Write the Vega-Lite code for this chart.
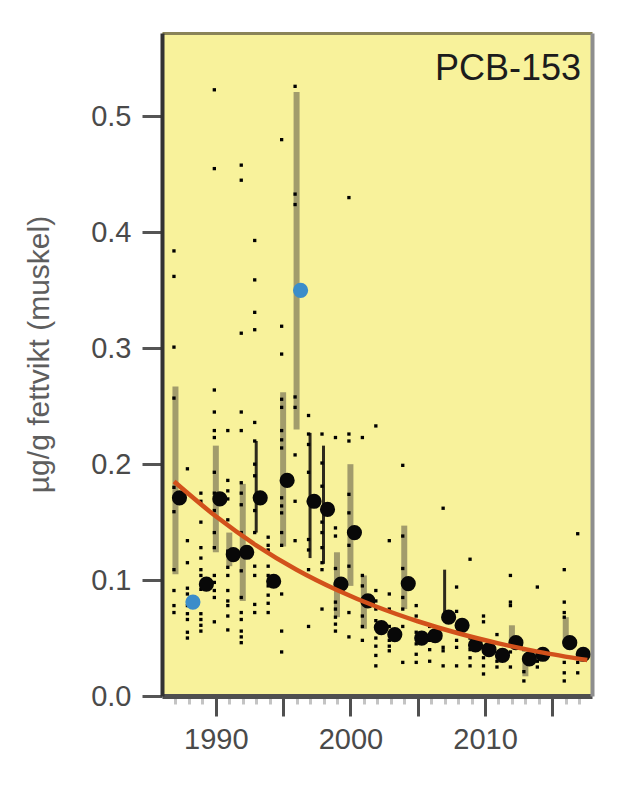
{
  "$schema": "https://vega.github.io/schema/vega-lite/v6.json",
  "width": 430,
  "height": 663,
  "autosize": {"type": "none"},
  "padding": {"left": 162, "top": 33, "right": 33, "bottom": 116},
  "background": "#ffffff",
  "config": {
    "view": {"fill": "#f8f29b", "stroke": null},
    "font": "Liberation Sans"
  },
  "title": {
    "text": "PCB-153",
    "anchor": "end",
    "frame": "group",
    "orient": "top",
    "offset": 0,
    "baseline": "alphabetic",
    "dy": 83,
    "dx": -11,
    "fontSize": 36,
    "fontWeight": "normal",
    "font": "Liberation Sans",
    "color": "#1c1c1c"
  },
  "datasets": {
    "ranges": [
      {"year": 1987, "lo": 0.105, "hi": 0.267, "kind": "ci"},
      {"year": 1990, "lo": 0.124, "hi": 0.216, "kind": "ci"},
      {"year": 1991, "lo": 0.112, "hi": 0.141, "kind": "ci"},
      {"year": 1992, "lo": 0.082, "hi": 0.183, "kind": "ci"},
      {"year": 1993, "lo": 0.141, "hi": 0.220, "kind": "dark"},
      {"year": 1995, "lo": 0.129, "hi": 0.262, "kind": "ci"},
      {"year": 1996, "lo": 0.230, "hi": 0.521, "kind": "ci"},
      {"year": 1997, "lo": 0.119, "hi": 0.227, "kind": "dark"},
      {"year": 1998, "lo": 0.114, "hi": 0.216, "kind": "dark"},
      {"year": 1999, "lo": 0.068, "hi": 0.124, "kind": "ci"},
      {"year": 2000, "lo": 0.095, "hi": 0.200, "kind": "ci"},
      {"year": 2001, "lo": 0.058, "hi": 0.104, "kind": "ci"},
      {"year": 2004, "lo": 0.075, "hi": 0.147, "kind": "ci"},
      {"year": 2007, "lo": 0.072, "hi": 0.109, "kind": "dark"},
      {"year": 2012, "lo": 0.047, "hi": 0.061, "kind": "ci"},
      {"year": 2013, "lo": 0.017, "hi": 0.029, "kind": "ci"},
      {"year": 2016, "lo": 0.046, "hi": 0.068, "kind": "ci"}
    ],
    "medians": [
      {"year": 1987, "median": 0.171, "outlier": false},
      {"year": 1988, "median": 0.081, "outlier": true},
      {"year": 1989, "median": 0.0965, "outlier": false},
      {"year": 1990, "median": 0.170, "outlier": false},
      {"year": 1991, "median": 0.122, "outlier": false},
      {"year": 1992, "median": 0.124, "outlier": false},
      {"year": 1993, "median": 0.171, "outlier": false},
      {"year": 1994, "median": 0.099, "outlier": false},
      {"year": 1995, "median": 0.186, "outlier": false},
      {"year": 1996, "median": 0.350, "outlier": true},
      {"year": 1997, "median": 0.168, "outlier": false},
      {"year": 1998, "median": 0.161, "outlier": false},
      {"year": 1999, "median": 0.0965, "outlier": false},
      {"year": 2000, "median": 0.141, "outlier": false},
      {"year": 2001, "median": 0.082, "outlier": false},
      {"year": 2002, "median": 0.059, "outlier": false},
      {"year": 2003, "median": 0.053, "outlier": false},
      {"year": 2004, "median": 0.097, "outlier": false},
      {"year": 2005, "median": 0.050, "outlier": false},
      {"year": 2006, "median": 0.052, "outlier": false},
      {"year": 2007, "median": 0.068, "outlier": false},
      {"year": 2008, "median": 0.061, "outlier": false},
      {"year": 2009, "median": 0.044, "outlier": false},
      {"year": 2010, "median": 0.040, "outlier": false},
      {"year": 2011, "median": 0.035, "outlier": false},
      {"year": 2012, "median": 0.046, "outlier": false},
      {"year": 2013, "median": 0.032, "outlier": false},
      {"year": 2014, "median": 0.036, "outlier": false},
      {"year": 2016, "median": 0.046, "outlier": false},
      {"year": 2017, "median": 0.036, "outlier": false}
    ],
    "trend": [
      {"year": 1986.9, "fit": 0.185},
      {"year": 1990, "fit": 0.155},
      {"year": 1993, "fit": 0.130},
      {"year": 1996, "fit": 0.109},
      {"year": 1999, "fit": 0.0915},
      {"year": 2002, "fit": 0.0768},
      {"year": 2005, "fit": 0.0645},
      {"year": 2008, "fit": 0.0541},
      {"year": 2011, "fit": 0.0454},
      {"year": 2014, "fit": 0.0381},
      {"year": 2017.6, "fit": 0.031}
    ],
    "samples": [
      {"year": 1987, "value": 0.384}, {"year": 1987, "value": 0.362}, {"year": 1987, "value": 0.301}, {"year": 1987, "value": 0.257}, {"year": 1987, "value": 0.180}, {"year": 1987, "value": 0.159}, {"year": 1987, "value": 0.109}, {"year": 1987, "value": 0.091}, {"year": 1987, "value": 0.078}, {"year": 1987, "value": 0.072},
      {"year": 1988, "value": 0.196}, {"year": 1988, "value": 0.134}, {"year": 1988, "value": 0.115}, {"year": 1988, "value": 0.093}, {"year": 1988, "value": 0.088}, {"year": 1988, "value": 0.078}, {"year": 1988, "value": 0.071}, {"year": 1988, "value": 0.066}, {"year": 1988, "value": 0.055}, {"year": 1988, "value": 0.050},
      {"year": 1989, "value": 0.175}, {"year": 1989, "value": 0.168}, {"year": 1989, "value": 0.150}, {"year": 1989, "value": 0.128}, {"year": 1989, "value": 0.119}, {"year": 1989, "value": 0.109}, {"year": 1989, "value": 0.104}, {"year": 1989, "value": 0.092}, {"year": 1989, "value": 0.071}, {"year": 1989, "value": 0.066}, {"year": 1989, "value": 0.061}, {"year": 1989, "value": 0.056},
      {"year": 1990, "value": 0.523}, {"year": 1990, "value": 0.455}, {"year": 1990, "value": 0.264}, {"year": 1990, "value": 0.245}, {"year": 1990, "value": 0.229}, {"year": 1990, "value": 0.223}, {"year": 1990, "value": 0.193}, {"year": 1990, "value": 0.175}, {"year": 1990, "value": 0.160}, {"year": 1990, "value": 0.141}, {"year": 1990, "value": 0.128}, {"year": 1990, "value": 0.104}, {"year": 1990, "value": 0.098}, {"year": 1990, "value": 0.091}, {"year": 1990, "value": 0.085}, {"year": 1990, "value": 0.064},
      {"year": 1991, "value": 0.229}, {"year": 1991, "value": 0.186}, {"year": 1991, "value": 0.177}, {"year": 1991, "value": 0.170}, {"year": 1991, "value": 0.152}, {"year": 1991, "value": 0.125}, {"year": 1991, "value": 0.111}, {"year": 1991, "value": 0.104}, {"year": 1991, "value": 0.091}, {"year": 1991, "value": 0.082}, {"year": 1991, "value": 0.078}, {"year": 1991, "value": 0.069}, {"year": 1991, "value": 0.057},
      {"year": 1992, "value": 0.458}, {"year": 1992, "value": 0.445}, {"year": 1992, "value": 0.313}, {"year": 1992, "value": 0.245}, {"year": 1992, "value": 0.229}, {"year": 1992, "value": 0.184}, {"year": 1992, "value": 0.175}, {"year": 1992, "value": 0.165}, {"year": 1992, "value": 0.141}, {"year": 1992, "value": 0.124}, {"year": 1992, "value": 0.108}, {"year": 1992, "value": 0.085}, {"year": 1992, "value": 0.072}, {"year": 1992, "value": 0.066}, {"year": 1992, "value": 0.056}, {"year": 1992, "value": 0.051}, {"year": 1992, "value": 0.046},
      {"year": 1993, "value": 0.393}, {"year": 1993, "value": 0.359}, {"year": 1993, "value": 0.331}, {"year": 1993, "value": 0.316}, {"year": 1993, "value": 0.236}, {"year": 1993, "value": 0.220}, {"year": 1993, "value": 0.200}, {"year": 1993, "value": 0.190}, {"year": 1993, "value": 0.160}, {"year": 1993, "value": 0.141}, {"year": 1993, "value": 0.112}, {"year": 1993, "value": 0.104}, {"year": 1993, "value": 0.079}, {"year": 1993, "value": 0.072},
      {"year": 1994, "value": 0.137}, {"year": 1994, "value": 0.130}, {"year": 1994, "value": 0.126}, {"year": 1994, "value": 0.112}, {"year": 1994, "value": 0.104}, {"year": 1994, "value": 0.095}, {"year": 1994, "value": 0.087}, {"year": 1994, "value": 0.080}, {"year": 1994, "value": 0.072},
      {"year": 1995, "value": 0.480}, {"year": 1995, "value": 0.319}, {"year": 1995, "value": 0.295}, {"year": 1995, "value": 0.256}, {"year": 1995, "value": 0.249}, {"year": 1995, "value": 0.229}, {"year": 1995, "value": 0.221}, {"year": 1995, "value": 0.214}, {"year": 1995, "value": 0.171}, {"year": 1995, "value": 0.164}, {"year": 1995, "value": 0.158}, {"year": 1995, "value": 0.141}, {"year": 1995, "value": 0.130}, {"year": 1995, "value": 0.088}, {"year": 1995, "value": 0.056}, {"year": 1995, "value": 0.038},
      {"year": 1996, "value": 0.526}, {"year": 1996, "value": 0.433}, {"year": 1996, "value": 0.424}, {"year": 1996, "value": 0.258}, {"year": 1996, "value": 0.249}, {"year": 1996, "value": 0.208}, {"year": 1996, "value": 0.168}, {"year": 1996, "value": 0.134},
      {"year": 1997, "value": 0.242}, {"year": 1997, "value": 0.226}, {"year": 1997, "value": 0.217}, {"year": 1997, "value": 0.193}, {"year": 1997, "value": 0.168}, {"year": 1997, "value": 0.135}, {"year": 1997, "value": 0.126}, {"year": 1997, "value": 0.109}, {"year": 1997, "value": 0.060},
      {"year": 1998, "value": 0.226}, {"year": 1998, "value": 0.201}, {"year": 1998, "value": 0.181}, {"year": 1998, "value": 0.150}, {"year": 1998, "value": 0.141}, {"year": 1998, "value": 0.128}, {"year": 1998, "value": 0.115}, {"year": 1998, "value": 0.109}, {"year": 1998, "value": 0.075},
      {"year": 1999, "value": 0.223}, {"year": 1999, "value": 0.145}, {"year": 1999, "value": 0.138}, {"year": 1999, "value": 0.110}, {"year": 1999, "value": 0.097}, {"year": 1999, "value": 0.081}, {"year": 1999, "value": 0.075}, {"year": 1999, "value": 0.068}, {"year": 1999, "value": 0.062}, {"year": 1999, "value": 0.056},
      {"year": 2000, "value": 0.430}, {"year": 2000, "value": 0.226}, {"year": 2000, "value": 0.220}, {"year": 2000, "value": 0.174}, {"year": 2000, "value": 0.158}, {"year": 2000, "value": 0.130}, {"year": 2000, "value": 0.112}, {"year": 2000, "value": 0.072}, {"year": 2000, "value": 0.051},
      {"year": 2001, "value": 0.223}, {"year": 2001, "value": 0.104}, {"year": 2001, "value": 0.095}, {"year": 2001, "value": 0.082}, {"year": 2001, "value": 0.069}, {"year": 2001, "value": 0.060}, {"year": 2001, "value": 0.048},
      {"year": 2002, "value": 0.233}, {"year": 2002, "value": 0.091}, {"year": 2002, "value": 0.082}, {"year": 2002, "value": 0.075}, {"year": 2002, "value": 0.065}, {"year": 2002, "value": 0.050}, {"year": 2002, "value": 0.043}, {"year": 2002, "value": 0.035}, {"year": 2002, "value": 0.026},
      {"year": 2003, "value": 0.134}, {"year": 2003, "value": 0.088}, {"year": 2003, "value": 0.075}, {"year": 2003, "value": 0.060}, {"year": 2003, "value": 0.048}, {"year": 2003, "value": 0.043}, {"year": 2003, "value": 0.039},
      {"year": 2004, "value": 0.199}, {"year": 2004, "value": 0.138}, {"year": 2004, "value": 0.110}, {"year": 2004, "value": 0.085}, {"year": 2004, "value": 0.075}, {"year": 2004, "value": 0.060}, {"year": 2004, "value": 0.029},
      {"year": 2005, "value": 0.078}, {"year": 2005, "value": 0.069}, {"year": 2005, "value": 0.055}, {"year": 2005, "value": 0.045}, {"year": 2005, "value": 0.036}, {"year": 2005, "value": 0.029},
      {"year": 2006, "value": 0.060}, {"year": 2006, "value": 0.048}, {"year": 2006, "value": 0.040}, {"year": 2006, "value": 0.030},
      {"year": 2007, "value": 0.162}, {"year": 2007, "value": 0.042}, {"year": 2007, "value": 0.039}, {"year": 2007, "value": 0.026},
      {"year": 2008, "value": 0.094}, {"year": 2008, "value": 0.073}, {"year": 2008, "value": 0.055}, {"year": 2008, "value": 0.048}, {"year": 2008, "value": 0.042}, {"year": 2008, "value": 0.026},
      {"year": 2009, "value": 0.118}, {"year": 2009, "value": 0.050}, {"year": 2009, "value": 0.040}, {"year": 2009, "value": 0.033}, {"year": 2009, "value": 0.026},
      {"year": 2010, "value": 0.069}, {"year": 2010, "value": 0.064}, {"year": 2010, "value": 0.033}, {"year": 2010, "value": 0.026}, {"year": 2010, "value": 0.019},
      {"year": 2011, "value": 0.053}, {"year": 2011, "value": 0.030}, {"year": 2011, "value": 0.025},
      {"year": 2012, "value": 0.104}, {"year": 2012, "value": 0.081}, {"year": 2012, "value": 0.078}, {"year": 2012, "value": 0.038}, {"year": 2012, "value": 0.025},
      {"year": 2013, "value": 0.040}, {"year": 2013, "value": 0.021}, {"year": 2013, "value": 0.013},
      {"year": 2014, "value": 0.094}, {"year": 2014, "value": 0.030}, {"year": 2014, "value": 0.025},
      {"year": 2016, "value": 0.109}, {"year": 2016, "value": 0.081}, {"year": 2016, "value": 0.072}, {"year": 2016, "value": 0.068}, {"year": 2016, "value": 0.046}, {"year": 2016, "value": 0.029}, {"year": 2016, "value": 0.020}, {"year": 2016, "value": 0.013},
      {"year": 2017, "value": 0.140}, {"year": 2017, "value": 0.029}, {"year": 2017, "value": 0.020}
    ]
  },
  "layer": [
    {
      "data": {"name": "ranges"},
      "mark": {"type": "rule", "strokeCap": "butt"},
      "encoding": {
        "x": {
          "field": "year", "type": "quantitative",
          "scale": {"domain": [1986.0, 2017.95], "nice": false, "zero": false},
          "axis": {
            "orient": "bottom", "values": [1990, 1995, 2000, 2005, 2010, 2015],
            "format": "d",
            "labelExpr": "datum.value % 10 === 0 ? datum.label : ''",
            "title": null, "grid": false, "zindex": 2,
            "domainColor": "#4f4f4f", "domainWidth": 5,
            "tickSize": 20, "tickWidth": 3, "tickColor": "#505050",
            "labelFont": "Liberation Sans", "labelFontSize": 29, "labelColor": "#4a4a4a",
            "labelPadding": 9, "labelFlush": false, "labelOverlap": false
          }
        },
        "y": {
          "field": "lo", "type": "quantitative",
          "scale": {"domain": [0, 0.572], "nice": false, "zero": true},
          "axis": {
            "orient": "left", "values": [0, 0.1, 0.2, 0.3, 0.4, 0.5], "format": ".1f",
            "grid": false, "zindex": 2,
            "domainColor": "#333333", "domainWidth": 4,
            "tickSize": 20, "tickWidth": 3, "tickColor": "#555555",
            "labelFont": "Liberation Sans", "labelFontSize": 29, "labelColor": "#4a4a4a",
            "labelPadding": 11, "labelFlush": false, "labelOverlap": false,
            "title": "µg/g fettvikt (muskel)",
            "titleFont": "Liberation Sans", "titleFontSize": 30, "titleFontWeight": "normal",
            "titleColor": "#5e5e5e", "titleAngle": -90, "titleX": -123, "titleY": 321,
            "titleAlign": "center", "titleBaseline": "middle"
          }
        },
        "y2": {"field": "hi"},
        "color": {
          "field": "kind", "type": "nominal",
          "scale": {"domain": ["ci", "dark"], "range": ["#a29c6c", "#2e2a1c"]},
          "legend": null
        },
        "strokeWidth": {
          "field": "kind", "type": "nominal",
          "scale": {"domain": ["ci", "dark"], "range": [6, 3]},
          "legend": null
        }
      }
    },
    {
      "data": {"name": "samples"},
      "mark": {"type": "point", "shape": "square", "filled": true, "size": 11, "color": "#000000", "opacity": 1, "xOffset": -1.5},
      "encoding": {
        "x": {
          "field": "year", "type": "quantitative",
          "scale": {"domain": [1986.0, 2017.95], "nice": false, "zero": false},
          "axis": {"orient": "top", "ticks": false, "labels": false, "grid": false, "title": null, "domainColor": "#8a8458", "domainWidth": 3, "zindex": 2}
        },
        "y": {
          "field": "value", "type": "quantitative",
          "scale": {"domain": [0, 0.572], "nice": false, "zero": true},
          "axis": {"orient": "right", "ticks": false, "labels": false, "grid": false, "title": null, "domainColor": "#8e8e8e", "domainWidth": 4, "zindex": 2}
        }
      }
    },
    {
      "data": {"name": "medians"},
      "mark": {"type": "circle", "size": 230, "opacity": 1, "xOffset": 4},
      "encoding": {
        "x": {
          "field": "year", "type": "quantitative",
          "scale": {"domain": [1986.0, 2017.95], "nice": false, "zero": false},
          "axis": {
            "orient": "bottom",
            "values": [1987, 1988, 1989, 1991, 1992, 1993, 1994, 1996, 1997, 1998, 1999, 2001, 2002, 2003, 2004, 2006, 2007, 2008, 2009, 2011, 2012, 2013, 2014, 2016, 2017],
            "labels": false, "title": null, "grid": false, "domain": false, "zindex": 1,
            "tickSize": 8, "tickWidth": 3, "tickColor": "#c4c4c4"
          }
        },
        "y": {
          "field": "median", "type": "quantitative",
          "scale": {"domain": [0, 0.572], "nice": false, "zero": true},
          "axis": null
        },
        "color": {
          "condition": {"test": "datum.outlier", "value": "#3b8dca"},
          "value": "#080808"
        }
      }
    },
    {
      "data": {"name": "trend"},
      "mark": {"type": "line", "color": "#d2511b", "strokeWidth": 4.5, "interpolate": "monotone"},
      "encoding": {
        "x": {
          "field": "year", "type": "quantitative",
          "scale": {"domain": [1986.0, 2017.95], "nice": false, "zero": false},
          "axis": null
        },
        "y": {
          "field": "fit", "type": "quantitative",
          "scale": {"domain": [0, 0.572], "nice": false, "zero": true},
          "axis": null
        }
      }
    }
  ],
  "resolve": {"axis": {"x": "independent", "y": "independent"}}
}
